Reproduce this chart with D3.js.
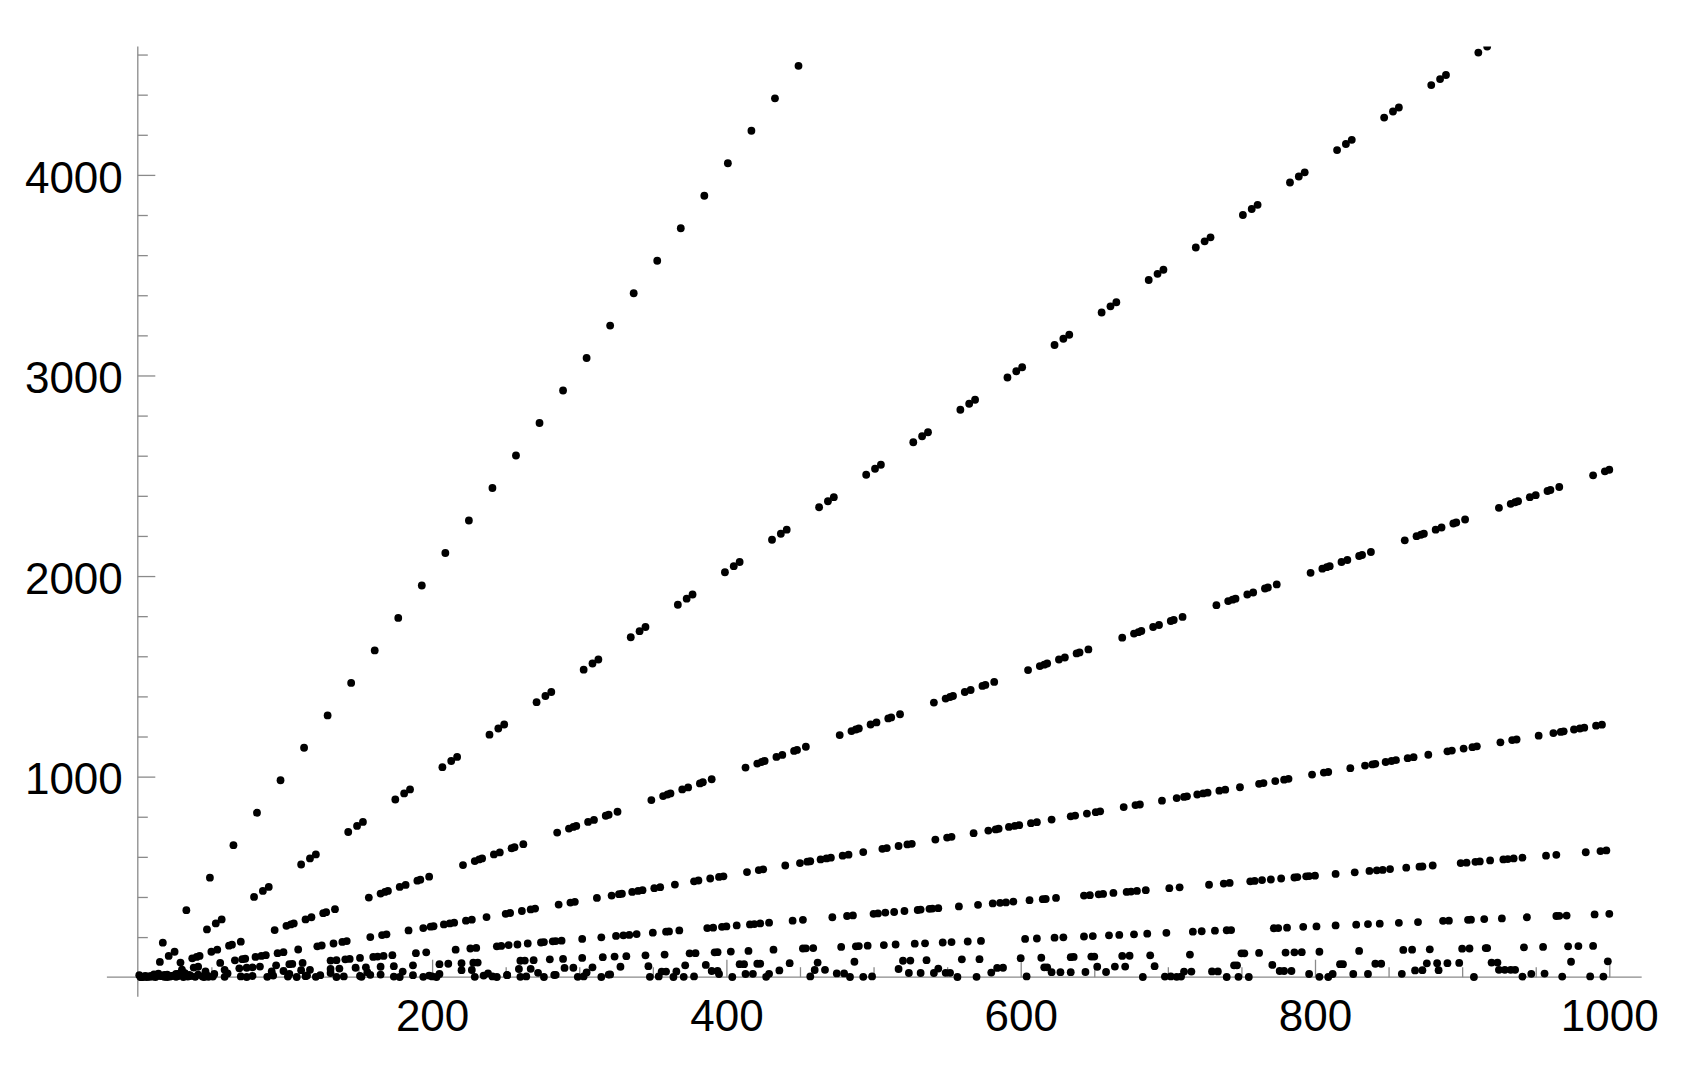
<!DOCTYPE html>
<html>
<head>
<meta charset="utf-8">
<script src="https://cdn.jsdelivr.net/npm/d3@7"></script>
<style>
  body { margin: 0; background: #fff; }
  text { font-family: 'Liberation Sans', Arial, sans-serif; }
</style>
</head>
<body>
<svg width="1693" height="1065"></svg>
<script>
// tick labels
const xTicks = [200, 400, 600, 800, 1000];
const yTicks = [1000, 2000, 3000, 4000];

// points, grouped by the ray they sit on
const ray1X = [1, 17, 33, 49, 65, 81, 97, 113, 129, 145, 161, 177, 193, 209, 225, 241, 257, 273, 289, 305, 321, 337, 353, 369, 385, 401, 417, 433, 449];
const ray1Y = [10, 172, 334, 496, 658, 820, 982, 1144, 1305, 1467, 1629, 1791, 1953, 2115, 2277, 2439, 2601, 2763, 2925, 3087, 3249, 3410, 3572, 3734, 3896, 4058, 4220, 4382, 4544];

const ray2X = [15, 21, 25, 47, 53, 57, 79, 85, 89, 111, 117, 121, 143, 149, 153, 175, 181, 185, 207, 213, 217, 239, 245, 249, 271, 277, 281, 303, 309, 313, 335, 341, 345, 367, 373, 377, 399, 405, 409, 431, 437, 441, 463, 469, 473, 495, 501, 505, 527, 533, 537, 559, 565, 569, 591, 597, 601, 623, 629, 633, 655, 661, 665, 687, 693, 697, 719, 725, 729, 751, 757, 761, 783, 789, 793, 815, 821, 825, 847, 853, 857, 879, 885, 889, 911, 917];
const ray2Y = [76, 106, 127, 238, 268, 288, 400, 430, 450, 562, 592, 612, 724, 754, 774, 886, 916, 936, 1047, 1078, 1098, 1209, 1240, 1260, 1371, 1402, 1422, 1533, 1564, 1584, 1695, 1725, 1746, 1857, 1887, 1908, 2019, 2049, 2070, 2181, 2211, 2231, 2343, 2373, 2393, 2505, 2535, 2555, 2667, 2697, 2717, 2829, 2859, 2879, 2990, 3021, 3041, 3152, 3183, 3203, 3314, 3345, 3365, 3476, 3507, 3527, 3638, 3669, 3689, 3800, 3830, 3851, 3962, 3992, 4013, 4124, 4154, 4175, 4286, 4316, 4336, 4448, 4478, 4498, 4610, 4640];

const ray3X = [29, 37, 40, 42, 50, 54, 62, 64, 70,
  93, 101, 104, 106, 114, 118, 126, 128, 134,
  157, 165, 168, 170, 178, 182, 190, 192, 198,
  221, 229, 232, 234, 242, 246, 254, 256, 262,
  285, 293, 296, 298, 306, 310, 318, 320, 326,
  349, 357, 360, 362, 370, 374, 382, 384, 390,
  413, 421, 424, 426, 434, 438, 446, 448, 454,
  477, 485, 488, 490, 498, 502, 510, 512, 518,
  541, 549, 552, 554, 562, 566, 574, 576, 582,
  605, 613, 616, 618, 626, 630, 638, 640, 646,
  669, 677, 680, 682, 690, 694, 702, 704, 710,
  733, 741, 744, 746, 754, 758, 766, 768, 774,
  797, 805, 808, 810, 818, 822, 830, 832, 838,
  861, 869, 872, 874, 882, 886, 894, 896, 902,
  925, 933, 936, 938, 946, 950, 958, 960, 966,
  989, 997, 1000];
const ray3Y = [73, 94, 101, 106, 127, 137, 157, 162, 177,
  235, 256, 263, 268, 288, 299, 319, 324, 339,
  397, 417, 425, 430, 450, 460, 481, 486, 501,
  559, 579, 587, 592, 612, 622, 643, 648, 663,
  721, 741, 749, 754, 774, 784, 805, 810, 825,
  883, 903, 911, 916, 936, 946, 966, 972, 987,
  1045, 1065, 1073, 1078, 1098, 1108, 1128, 1133, 1149,
  1207, 1227, 1235, 1240, 1260, 1270, 1290, 1295, 1311,
  1369, 1389, 1397, 1402, 1422, 1432, 1452, 1457, 1472,
  1531, 1551, 1558, 1564, 1584, 1594, 1614, 1619, 1634,
  1693, 1713, 1720, 1726, 1746, 1756, 1776, 1781, 1796,
  1855, 1875, 1882, 1887, 1908, 1918, 1938, 1943, 1958,
  2016, 2037, 2044, 2049, 2070, 2080, 2100, 2105, 2120,
  2178, 2199, 2206, 2211, 2231, 2242, 2262, 2267, 2282,
  2340, 2360, 2368, 2373, 2393, 2403, 2424, 2429, 2444,
  2502, 2522, 2530];

const ray4X = [5, 11, 14, 30, 38, 41, 56, 66, 71, 73, 80, 84, 87, 95, 99, 109, 122, 125,
  133, 139, 142, 158, 166, 169, 184, 194, 199, 201, 208, 212, 215, 223, 227, 237, 250, 253,
  261, 267, 270, 286, 294, 297, 312, 322, 327, 329, 336, 340, 343, 351, 355, 365, 378, 381,
  389, 395, 398, 414, 422, 425, 440, 450, 455, 457, 464, 468, 471, 479, 483, 493, 506, 509,
  517, 523, 526, 542, 550, 553, 568, 578, 583, 585, 592, 596, 599, 607, 611, 621, 634, 637,
  645, 651, 654, 670, 678, 681, 696, 706, 711, 713, 720, 724, 727, 735, 739, 749, 762, 765,
  773, 779, 782, 798, 806, 809, 824, 834, 839, 841, 848, 852, 855, 863, 867, 877, 890, 893,
  901, 907, 910, 926, 934, 937, 952, 962, 967, 969, 976, 980, 983, 991, 995];
const ray4Y = [6, 14, 18, 38, 48, 52, 71, 84, 90, 92, 101, 106, 110, 120, 125, 138, 154, 158,
  168, 176, 180, 200, 210, 214, 233, 245, 252, 254, 263, 268, 272, 282, 287, 300, 316, 320,
  330, 338, 342, 362, 372, 376, 395, 407, 414, 416, 425, 430, 434, 444, 449, 462, 478, 482,
  492, 500, 503, 524, 534, 538, 557, 569, 576, 578, 587, 592, 596, 606, 611, 624, 640, 644,
  654, 662, 665, 686, 696, 700, 718, 731, 737, 740, 749, 754, 758, 768, 773, 786, 802, 806,
  816, 823, 827, 848, 858, 861, 880, 893, 899, 902, 911, 916, 920, 930, 935, 947, 964, 968,
  978, 985, 989, 1010, 1020, 1023, 1042, 1055, 1061, 1064, 1073, 1078, 1082, 1092, 1097, 1109, 1126, 1130,
  1140, 1147, 1151, 1171, 1182, 1185, 1204, 1217, 1223, 1226, 1235, 1240, 1244, 1254, 1259];

const ray5X = [2, 9, 18, 20, 26, 28, 32, 46, 59, 69, 74, 78, 83, 94, 103, 105, 112, 131, 135, 141, 144, 151, 160, 163, 167, 173, 189, 196, 216, 226, 230, 244, 247, 252,
  258, 265, 274, 276, 282, 284, 288, 302, 315, 325, 330, 334, 339, 350, 359, 361, 368, 387, 391, 397, 400, 407, 416, 419, 423, 429, 445, 452, 472, 482, 486, 500, 503, 508,
  514, 521, 530, 532, 538, 540, 544, 558, 571, 581, 586, 590, 595, 606, 615, 617, 624, 643, 647, 653, 656, 663, 672, 675, 679, 685, 701, 708, 728, 738, 742, 756, 759, 764,
  770, 777, 786, 788, 794, 796, 800, 814, 827, 837, 842, 846, 851, 862, 871, 873, 880, 899, 903, 909, 912, 919, 928, 931, 935, 941, 957, 964, 984, 994, 998];
const ray5Y = [1, 6, 11, 13, 17, 18, 20, 29, 37, 44, 47, 49, 53, 59, 65, 66, 71, 83, 85, 89, 91, 96, 101, 103, 106, 110, 120, 124, 137, 143, 146, 154, 156, 160,
  163, 168, 173, 175, 179, 180, 182, 191, 199, 206, 209, 211, 215, 222, 227, 228, 233, 245, 247, 251, 253, 258, 263, 265, 268, 272, 282, 286, 299, 305, 308, 316, 318, 322,
  325, 330, 335, 337, 341, 342, 344, 353, 361, 368, 371, 373, 377, 384, 389, 390, 395, 407, 409, 413, 415, 420, 425, 427, 430, 434, 444, 448, 461, 467, 470, 478, 480, 484,
  487, 492, 497, 499, 503, 504, 506, 515, 523, 530, 533, 535, 539, 546, 551, 552, 557, 569, 571, 575, 577, 582, 587, 589, 592, 596, 606, 610, 623, 629, 632];

const ray6X = [3, 16, 23, 35, 41, 52, 61, 91, 99, 111, 117, 131, 137, 148, 155, 165, 174, 187, 205, 211, 220, 228, 231, 260, 263, 269, 280, 289, 302, 316, 324, 332, 345, 358, 375, 379, 392, 394, 403, 415, 432, 452, 454, 459, 478, 488, 490, 496, 507,
  515, 528, 535, 547, 553, 564, 573, 603, 611, 623, 629, 643, 649, 660, 667, 677, 686, 699, 717, 723, 732, 740, 743, 772, 775, 781, 792, 801, 814, 828, 836, 844, 857, 870, 887, 891, 904, 906, 915, 927, 944, 964, 966, 971, 990, 1000];
const ray6Y = [1, 5, 7, 11, 13, 16, 19, 29, 31, 35, 37, 41, 43, 47, 49, 52, 55, 59, 65, 67, 70, 72, 73, 82, 83, 85, 89, 91, 96, 100, 103, 105, 109, 113, 119, 120, 124, 125, 128, 131, 137, 143, 144, 145, 151, 154, 155, 157, 160,
  163, 167, 169, 173, 175, 178, 181, 191, 193, 197, 199, 203, 205, 209, 211, 214, 217, 221, 227, 229, 232, 234, 235, 244, 245, 247, 251, 253, 258, 262, 265, 267, 271, 275, 281, 282, 286, 287, 290, 293, 299, 305, 306, 307, 313, 316];

const ray7X = [103, 131, 156, 180, 220, 227, 259, 267, 290, 296, 309, 328, 347, 372, 386, 409, 412, 421, 423, 443, 462, 487, 520, 525, 536, 560, 572, 600, 614, 634, 636, 648, 650, 669, 674, 688, 715, 750, 752, 762, 780, 786, 791, 803, 830, 860, 866, 878, 900, 905, 916, 917, 942, 955, 972, 979, 989];
const ray7Y = [16, 21, 25, 28, 35, 36, 41, 42, 46, 47, 49, 52, 55, 59, 61, 65, 65, 67, 67, 70, 73, 77, 82, 83, 85, 89, 90, 95, 97, 100, 101, 103, 103, 106, 107, 109, 113, 119, 119, 121, 123, 124, 125, 127, 131, 136, 137, 139, 142, 143, 145, 145, 149, 151, 154, 155, 156];

const ray8X = [115, 165, 205, 238, 272, 305, 356, 359, 366, 390, 394, 436, 460, 467, 517, 544, 584, 588, 616, 618, 652, 664, 671, 691, 745, 747, 771, 817, 819, 841, 845, 876, 883, 890, 898, 920, 924, 974, 999];
const ray8Y = [9, 13, 16, 19, 22, 24, 28, 28, 29, 31, 31, 34, 36, 37, 41, 43, 46, 47, 49, 49, 52, 53, 53, 55, 59, 59, 61, 65, 65, 67, 67, 69, 70, 70, 71, 73, 73, 77, 79];

const ray9X = [151, 198, 251, 283, 320, 395, 413, 418, 429, 475, 480, 524, 532, 541, 549, 552, 580, 621, 627, 634, 644, 658, 711, 716, 730, 734, 776, 779, 784, 868, 873, 884, 925, 929, 933, 936];
const ray9Y = [6, 8, 10, 11, 13, 16, 16, 17, 17, 19, 19, 21, 21, 21, 22, 22, 23, 25, 25, 25, 26, 26, 28, 28, 29, 29, 31, 31, 31, 34, 35, 35, 37, 37, 37, 37];

const lowX = [2, 4, 6, 7, 8, 10, 12, 13, 18, 19, 20, 22, 24, 26, 27, 31, 34, 36, 39, 44, 45, 47, 48, 51,
  59, 70, 74, 78, 88, 92, 102, 108, 114, 121, 124, 135, 140, 152, 158, 174, 178, 187, 194, 200, 203, 229, 235, 241, 244, 251, 260, 264, 276, 284, 299, 303, 315, 321,
  348, 354, 364, 371, 378, 404, 427, 457, 484, 493, 499, 557, 570, 604,
  683, 698, 702, 706, 709, 740, 748, 755, 796, 803, 809, 812, 826, 836, 859, 908, 941, 947, 956, 968, 987, 996];
const lowY = [1, 2, 1, 4, 2, 3, 1, 6, 2, 4, 1, 3, 8, 2, 5, 1, 3, 6, 2, 4, 1, 9, 2, 3,
  2, 4, 1, 6, 2, 8, 3, 1, 5, 2, 10, 1, 4, 2, 12, 3, 1, 10, 2, 4, 1, 2, 8, 4, 1, 11, 2, 4, 1, 12, 2, 4, 1, 14,
  2, 4, 1, 2, 4, 1, 2, 4, 1, 2, 4, 1, 2, 4,
  1, 3, 4, 2, 3, 1, 2, 1, 16, 2, 1, 16, 16, 16, 17, 1, 3, 17, 18, 3, 4, 3];

const groups = [
  [ray1X, ray1Y], [ray2X, ray2Y], [ray3X, ray3Y], [ray4X, ray4Y], [ray5X, ray5Y],
  [ray6X, ray6Y], [ray7X, ray7Y], [ray8X, ray8Y], [ray9X, ray9Y], [lowX, lowY]
];
const points = groups.flatMap(([xs, ys]) => xs.map((v, i) => ({ n: v, value: ys[i] })));

const svg = d3.select('svg');
const axisColor = '#8a8a8a';

const x = d3.scaleLinear().domain([0, 1000]).range([137.8, 1609.3]);
const y = d3.scaleLinear().domain([0, 4000]).range([977.2, 174.9]);
const xExtent = [-21, 1022];
const yExtent = [-97, 4640];

svg.append('defs')
  .append('clipPath')
  .attr('id', 'plot-clip')
  .append('rect')
  .attr('x', x(xExtent[0]))
  .attr('y', y(yExtent[1]))
  .attr('width', x(xExtent[1]) - x(xExtent[0]))
  .attr('height', y(yExtent[0]) - y(yExtent[1]));

// axis lines
svg.append('line')
  .attr('x1', x(xExtent[0])).attr('x2', x(xExtent[1]))
  .attr('y1', y(0)).attr('y2', y(0))
  .attr('stroke', axisColor).attr('stroke-width', 1.3);
svg.append('line')
  .attr('x1', x(0)).attr('x2', x(0))
  .attr('y1', y(yExtent[0])).attr('y2', y(yExtent[1]))
  .attr('stroke', axisColor).attr('stroke-width', 1.3);

const xMinor = d3.range(50, 1001, 50).filter((d) => !xTicks.includes(d));
const yMinor = d3.range(200, 4601, 200).filter((d) => !yTicks.includes(d));

function styleAxis(g) {
  g.select('.domain').remove();
  g.selectAll('.tick line').attr('stroke', axisColor).attr('stroke-width', 1.3);
  g.selectAll('text').attr('fill', '#000').attr('font-size', '44px')
    .attr('font-family', "'Liberation Sans', Arial, sans-serif");
}

svg.append('g')
  .attr('transform', `translate(0, ${y(0)})`)
  .call(d3.axisBottom(x).tickValues(xMinor).tickSize(-10).tickFormat(''))
  .call(styleAxis);

svg.append('g')
  .attr('transform', `translate(0, ${y(0)})`)
  .call(d3.axisBottom(x).tickValues(xTicks).tickSize(-17.5).tickPadding(23).tickFormat(d3.format('d')))
  .call(styleAxis);

svg.append('g')
  .attr('transform', `translate(${x(0)}, 0)`)
  .call(d3.axisLeft(y).tickValues(yMinor).tickSize(-10).tickFormat(''))
  .call(styleAxis);

svg.append('g')
  .attr('transform', `translate(${x(0)}, 0)`)
  .call(d3.axisLeft(y).tickValues(yTicks).tickSize(-17.5).tickPadding(15).tickFormat(d3.format('d')))
  .call(styleAxis)
  .selectAll('text')
  .attr('dy', '0.39em');

// the points
svg.append('g')
  .attr('clip-path', 'url(#plot-clip)')
  .selectAll('circle')
  .data(points)
  .enter()
  .append('circle')
  .attr('cx', (d) => x(d.n))
  .attr('cy', (d) => y(d.value))
  .attr('r', 3.9)
  .attr('fill', '#000');
</script>
</body>
</html>
